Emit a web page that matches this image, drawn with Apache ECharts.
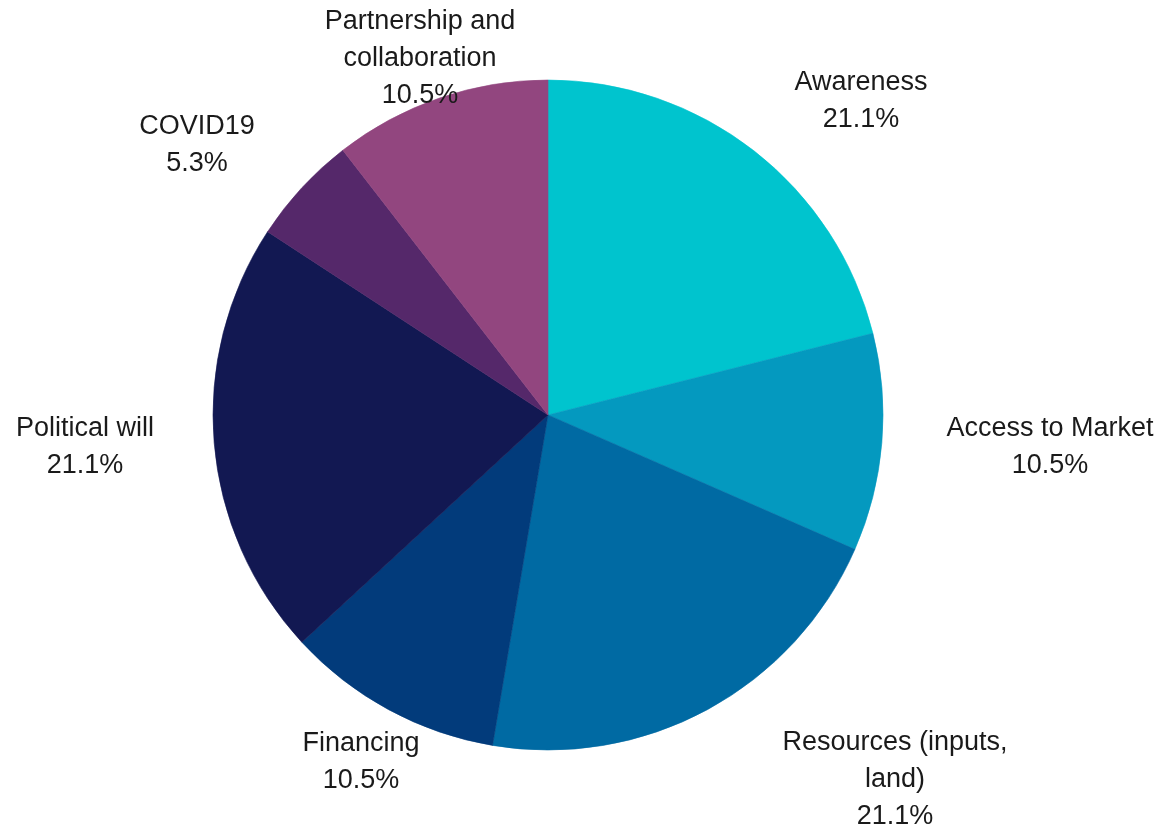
<!DOCTYPE html>
<html>
<head>
<meta charset="utf-8">
<script src="https://cdn.jsdelivr.net/npm/echarts@6/dist/echarts.min.js"></script>
<style>
html,body{margin:0;padding:0;background:#fff;}
#chart{width:1162px;height:832px;}
</style>
</head>
<body>
<div id="chart"></div>
<script>
const categories = ['Awareness', 'Access to Market', 'Resources (inputs,\nland)', 'Financing', 'Political will', 'COVID19', 'Partnership and\ncollaboration'];
const percentValues = [21.1, 10.5, 21.1, 10.5, 21.1, 5.3, 10.5];
const sliceColors = ['#00C4CE', '#0499BF', '#006AA3', '#023B7B', '#121852', '#55286A', '#92467F'];
// label block centres (page pixels)
const labelCenters = [[861, 101], [1050, 447], [895, 780], [361, 762], [85, 447], [197, 145], [420, 59]];

const chart = echarts.init(document.getElementById('chart'), null, {renderer: 'canvas'});
const data = categories.map((name, i) => ({
  name: name,
  value: percentValues[i],
  itemStyle: {color: sliceColors[i], borderColor: sliceColors[i], borderWidth: 0.6}
}));
chart.setOption({
  backgroundColor: '#ffffff',
  animation: false,
  series: [{
    type: 'pie',
    center: [548, 415],
    radius: [0, 335],
    startAngle: 90,
    clockwise: true,
    data: data,
    label: {
      show: true,
      position: 'outside',
      formatter: p => p.name + '\n' + p.value.toFixed(1) + '%',
      fontFamily: 'Liberation Sans, Arial, sans-serif',
      fontSize: 27,
      lineHeight: 37,
      color: '#1a1a1a',
      align: 'center'
    },
    labelLine: {show: false},
    labelLayout: function (params) {
      const c = labelCenters[params.dataIndex];
      return {x: c[0], y: c[1], align: 'center', verticalAlign: 'middle'};
    }
  }]
});
</script>
</body>
</html>
